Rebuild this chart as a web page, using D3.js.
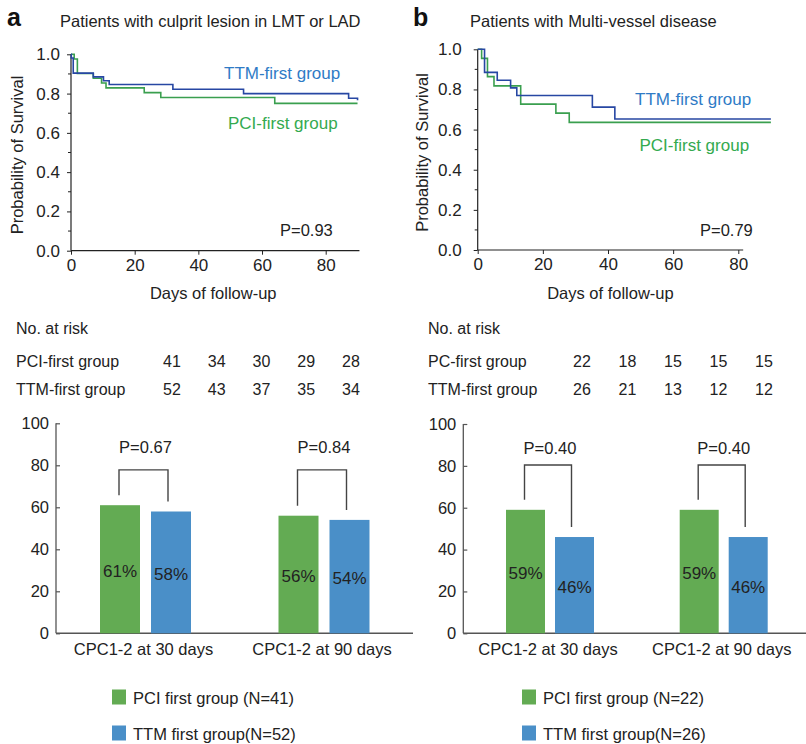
<!DOCTYPE html>
<html>
<head>
<meta charset="utf-8">
<script src="https://cdn.jsdelivr.net/npm/d3@7"></script>
<style>
  html, body { margin: 0; padding: 0; background: #ffffff; }
  svg { display: block; font-family: "Liberation Sans", Arial, Helvetica, sans-serif; }
</style>
</head>
<body>
<svg id="fig" width="806" height="744"></svg>
<script>
// ---- Kaplan-Meier curves (day, survival probability) ----
const aTTMDays = [0, 0.1, 0.7, 7, 10.2, 12, 32, 54.2, 87.2, 90];
const aTTMSurv = [1.0, 0.981, 0.904, 0.885, 0.865, 0.846, 0.822, 0.800, 0.776, 0.766];
const aPCIDays = [0, 1, 2, 7, 9.6, 11, 23, 28.2, 64, 90];
const aPCISurv = [1.0, 0.976, 0.902, 0.878, 0.854, 0.829, 0.805, 0.780, 0.750, 0.750];

const bTTMDays = [0, 2.1, 6, 10.1, 12, 35.2, 42.1, 90];
const bTTMSurv = [1.0, 0.885, 0.846, 0.808, 0.770, 0.712, 0.653, 0.653];
const bPCIDays = [0, 1.2, 3, 5, 13.2, 24, 28.1, 90];
const bPCISurv = [1.0, 0.955, 0.864, 0.818, 0.727, 0.682, 0.636, 0.636];

const kmXTicks = [0, 20, 40, 60, 80];
const kmYTicks = [0, 0.2, 0.4, 0.6, 0.8, 1.0];
const kmYMinor = [0.1, 0.3, 0.5, 0.7, 0.9];

// ---- Number at risk ----
const aRiskPCI = [41, 34, 30, 29, 28];
const aRiskTTM = [52, 43, 37, 35, 34];
const bRiskPCI = [22, 18, 15, 15, 15];
const bRiskTTM = [26, 21, 13, 12, 12];

// ---- CPC 1-2 bars (%) ----
const barCategories = ["CPC1-2 at 30 days", "CPC1-2 at 90 days"];
const barGroups = ["PCI", "TTM"];
const aBarPCI = [61, 56];
const aBarTTM = [58, 54];
const bBarPCI = [59, 59];
const bBarTTM = [46, 46];
const aBarP = ["P=0.67", "P=0.84"];
const bBarP = ["P=0.40", "P=0.40"];
const barYTicks = [0, 20, 40, 60, 80, 100];

const GREEN_BAR = "#63ab53";
const BLUE_BAR = "#4a8fc8";
const KM_BLUE = "#2747a3";
const KM_GREEN = "#3a9f4f";
const LABEL_BLUE = "#2f7bc6";
const LABEL_GREEN = "#34aa4f";
const TEXT = "#222";

const svg = d3.select("#fig");

function kmPanel(cfg) {
  const g = svg.append("g");
  const x = d3.scaleLinear().domain([0, 80]).range(cfg.xRange);
  const y = d3.scaleLinear().domain([0, 1]).range(cfg.yRange);

  // panel letter and title
  g.append("text").attr("x", cfg.letterX).attr("y", cfg.letterY)
    .attr("font-size", 25).attr("font-weight", "bold").attr("fill", "#111").text(cfg.letter);
  g.append("text").attr("x", cfg.titleX).attr("y", 21).attr("dominant-baseline", "central")
    .attr("font-size", 16.5).attr("fill", TEXT).text(cfg.title);

  // axes
  const yAxis = d3.axisLeft(y).tickValues(kmYTicks).tickFormat(d3.format(".1f"))
    .tickSize(4).tickPadding(cfg.yPad);
  const ya = g.append("g").attr("transform", `translate(${x(0)},0)`).call(yAxis);
  ya.select(".domain").remove();
  ya.append("line").attr("x1", 0).attr("x2", 0).attr("y1", y(0)).attr("y2", y(1))
    .attr("stroke", "#222").attr("stroke-width", 1.2);
  ya.selectAll(".minor").data(kmYMinor).join("line").attr("class", "minor")
    .attr("x1", -3).attr("x2", 0).attr("y1", d => y(d)).attr("y2", d => y(d))
    .attr("stroke", "#222");
  ya.selectAll(".tick line").attr("stroke", "#222");
  ya.selectAll(".tick text").attr("font-size", 17).attr("fill", TEXT)
    .attr("font-family", "Liberation Sans, Arial, sans-serif");

  const xAxis = d3.axisBottom(x).tickValues(kmXTicks).tickSize(4).tickPadding(4);
  const xa = g.append("g").attr("transform", `translate(0,${y(0)})`).call(xAxis);
  xa.select(".domain").remove();
  xa.append("line").attr("x1", x(0)).attr("x2", x(cfg.xAxisEnd)).attr("y1", 0).attr("y2", 0)
    .attr("stroke", "#222").attr("stroke-width", 1.2);
  xa.selectAll(".tick line").attr("stroke", "#222");
  xa.selectAll(".tick text").attr("font-size", 17).attr("fill", TEXT)
    .attr("font-family", "Liberation Sans, Arial, sans-serif");

  g.append("text").attr("x", (x(0) + x(cfg.xAxisEnd)) / 2 + cfg.xLabelShift).attr("y", 293)
    .attr("text-anchor", "middle").attr("dominant-baseline", "central")
    .attr("font-size", 16.5).attr("fill", TEXT).text("Days of follow-up");
  g.append("text")
    .attr("transform", `translate(${cfg.yLabelX},${cfg.yLabelY}) rotate(-90)`)
    .attr("text-anchor", "middle").attr("dominant-baseline", "central")
    .attr("font-size", 16.5).attr("fill", TEXT).text("Probability of Survival");

  // survival step curves
  const line = d3.line().x(d => x(d[0])).y(d => y(d[1])).curve(d3.curveStepAfter);
  const curves = [
    { days: cfg.pciDays, surv: cfg.pciSurv, color: KM_GREEN },
    { days: cfg.ttmDays, surv: cfg.ttmSurv, color: KM_BLUE }
  ];
  curves.forEach(c => {
    const pts = c.days.map((d, i) => [d, c.surv[i]]);
    g.append("path").datum(pts).attr("d", line).attr("fill", "none")
      .attr("stroke", c.color).attr("stroke-width", 1.6);
  });

  g.append("text").attr("x", cfg.ttmLabel[0]).attr("y", cfg.ttmLabel[1])
    .attr("dominant-baseline", "central").attr("font-size", 17).attr("fill", LABEL_BLUE)
    .text("TTM-first group");
  g.append("text").attr("x", cfg.pciLabel[0]).attr("y", cfg.pciLabel[1])
    .attr("dominant-baseline", "central").attr("font-size", 17).attr("fill", LABEL_GREEN)
    .text("PCI-first group");
  g.append("text").attr("x", cfg.pLabel[0]).attr("y", cfg.pLabel[1])
    .attr("dominant-baseline", "central").attr("font-size", 16.5).attr("fill", TEXT)
    .text(cfg.p);
}

kmPanel({
  letter: "a", letterX: 7, letterY: 26, titleX: 60,
  title: "Patients with culprit lesion in LMT or LAD",
  xRange: [71, 325.7], yRange: [250.7, 54.3], xAxisEnd: 90.6, xLabelShift: -2, yPad: 7,
  yLabelX: 17, yLabelY: 155,
  ttmDays: aTTMDays, ttmSurv: aTTMSurv, pciDays: aPCIDays, pciSurv: aPCISurv,
  ttmLabel: [224, 73], pciLabel: [228, 123], pLabel: [280, 230], p: "P=0.93"
});
kmPanel({
  letter: "b", letterX: 413, letterY: 26, titleX: 470,
  title: "Patients with Multi-vessel disease",
  xRange: [477.7, 738.3], yRange: [250, 49.3], xAxisEnd: 81.5, xLabelShift: 0, yPad: 12,
  yLabelX: 421.5, yLabelY: 152.5,
  ttmDays: bTTMDays, ttmSurv: bTTMSurv, pciDays: bPCIDays, pciSurv: bPCISurv,
  ttmLabel: [635, 99], pciLabel: [639.5, 145.5], pLabel: [700, 230], p: "P=0.79"
});

// ---- Number-at-risk tables ----
function riskTable(cfg) {
  const g = svg.append("g").attr("font-size", 16).attr("fill", TEXT);
  const col = d3.scalePoint().domain(d3.range(cfg.pci.length)).range(cfg.colRange);
  g.append("text").attr("x", cfg.x).attr("y", 328.5).attr("dominant-baseline", "central").text("No. at risk");
  const rows = [
    { name: cfg.pciName, vals: cfg.pci, y: 361 },
    { name: "TTM-first group", vals: cfg.ttm, y: 389 }
  ];
  rows.forEach(r => {
    g.append("text").attr("x", cfg.x).attr("y", r.y).attr("dominant-baseline", "central").text(r.name);
    g.selectAll(null).data(r.vals).join("text")
      .attr("x", (d, i) => col(i)).attr("y", r.y)
      .attr("text-anchor", "middle").attr("dominant-baseline", "central").text(d => d);
  });
}
riskTable({ x: 16, pciName: "PCI-first group", pci: aRiskPCI, ttm: aRiskTTM, colRange: [172, 351] });
riskTable({ x: 428, pciName: "PC-first group", pci: bRiskPCI, ttm: bRiskTTM, colRange: [582, 764] });

// ---- CPC 1-2 bar charts ----
function barPanel(cfg) {
  const g = svg.append("g");
  const y = d3.scaleLinear().domain([0, 100]).range([633.3, cfg.yTop]);
  const x = d3.scalePoint().domain(barCategories).range(cfg.catRange);
  const sub = d3.scaleBand().domain(barGroups).range([-cfg.halfWidth, cfg.halfWidth])
    .paddingInner(cfg.innerPad).paddingOuter(0);

  const yAxis = d3.axisRight(y).tickValues(barYTicks).tickSize(4).tickFormat(d3.format("d"));
  const ya = g.append("g").attr("transform", `translate(${cfg.axisX},0)`).call(yAxis);
  ya.select(".domain").remove();
  ya.append("line").attr("x1", 0).attr("x2", 0).attr("y1", y(0)).attr("y2", y(100))
    .attr("stroke", "#555").attr("stroke-width", 1.3);
  ya.selectAll(".tick line").attr("stroke", "#555").attr("stroke-width", 1.2);
  ya.selectAll(".tick text").attr("x", -7).attr("text-anchor", "end")
    .attr("font-size", 16.5).attr("fill", TEXT)
    .attr("font-family", "Liberation Sans, Arial, sans-serif");

  g.append("line").attr("x1", cfg.axisX).attr("x2", cfg.baseEnd).attr("y1", y(0)).attr("y2", y(0))
    .attr("stroke", "#555").attr("stroke-width", 1.5);

  const series = [
    { key: "PCI", vals: cfg.pci, color: GREEN_BAR },
    { key: "TTM", vals: cfg.ttm, color: BLUE_BAR }
  ];
  series.forEach(s => {
    g.selectAll(null).data(barCategories).join("rect")
      .attr("x", c => x(c) + sub(s.key))
      .attr("width", sub.bandwidth())
      .attr("y", (c, i) => y(s.vals[i]))
      .attr("height", (c, i) => y(0) - y(s.vals[i]))
      .attr("fill", s.color);
    g.selectAll(null).data(barCategories).join("text")
      .attr("x", c => x(c) + sub(s.key) + sub.bandwidth() / 2)
      .attr("y", (c, i) => (y(0) + y(s.vals[i])) / 2 + 2)
      .attr("text-anchor", "middle").attr("dominant-baseline", "central")
      .attr("font-size", 17).attr("fill", "#222")
      .text((c, i) => s.vals[i] + "%");
  });

  // significance brackets
  barCategories.forEach((c, i) => {
    const xl = x(c) + sub("PCI") + sub.bandwidth() / 2 - 1;
    const xr = x(c) + sub("TTM") + sub.bandwidth() / 2 - 3;
    const top = y(cfg.bracket);
    const path = d3.path();
    path.moveTo(xl, y(cfg.pci[i]) - 10);
    path.lineTo(xl, top);
    path.lineTo(xr, top);
    path.lineTo(xr, y(cfg.ttm[i]) - 10);
    g.append("path").attr("d", path.toString()).attr("fill", "none")
      .attr("stroke", "#444").attr("stroke-width", 1.4);
    g.append("text").attr("x", (xl + xr) / 2 + 2).attr("y", y(88.5))
      .attr("text-anchor", "middle").attr("dominant-baseline", "central")
      .attr("font-size", 16.5).attr("fill", TEXT).text(cfg.p[i]);
    g.append("text").attr("x", x(c) - 2).attr("y", 649)
      .attr("text-anchor", "middle").attr("dominant-baseline", "central")
      .attr("font-size", 16.5).attr("fill", TEXT).text(c);
  });

  // legend
  const legend = [
    { color: GREEN_BAR, label: `PCI first group (N=${cfg.nPCI})`, y: 697 },
    { color: BLUE_BAR, label: `TTM first group(N=${cfg.nTTM})`, y: 733 }
  ];
  legend.forEach(l => {
    g.append("rect").attr("x", cfg.legendX).attr("y", l.y - 7.5).attr("width", 14).attr("height", 15)
      .attr("fill", l.color);
    g.append("text").attr("x", cfg.legendX + 21).attr("y", l.y + 0.5)
      .attr("dominant-baseline", "central").attr("font-size", 16.5).attr("fill", TEXT)
      .text(l.label);
  });
}

barPanel({
  yTop: 423.3, catRange: [145.5, 324], halfWidth: 45.5, innerPad: 11 / 51,
  axisX: 56, baseEnd: 413, pci: aBarPCI, ttm: aBarTTM, p: aBarP, bracket: 77.8,
  legendX: 112, nPCI: aRiskPCI[0], nTTM: aRiskTTM[0]
});
barPanel({
  yTop: 424, catRange: [550, 723.7], halfWidth: 44, innerPad: 10 / 49,
  axisX: 463.3, baseEnd: 806, pci: bBarPCI, ttm: bBarTTM, p: bBarP, bracket: 80.4,
  legendX: 522, nPCI: bRiskPCI[0], nTTM: bRiskTTM[0]
});
</script>
</body>
</html>
